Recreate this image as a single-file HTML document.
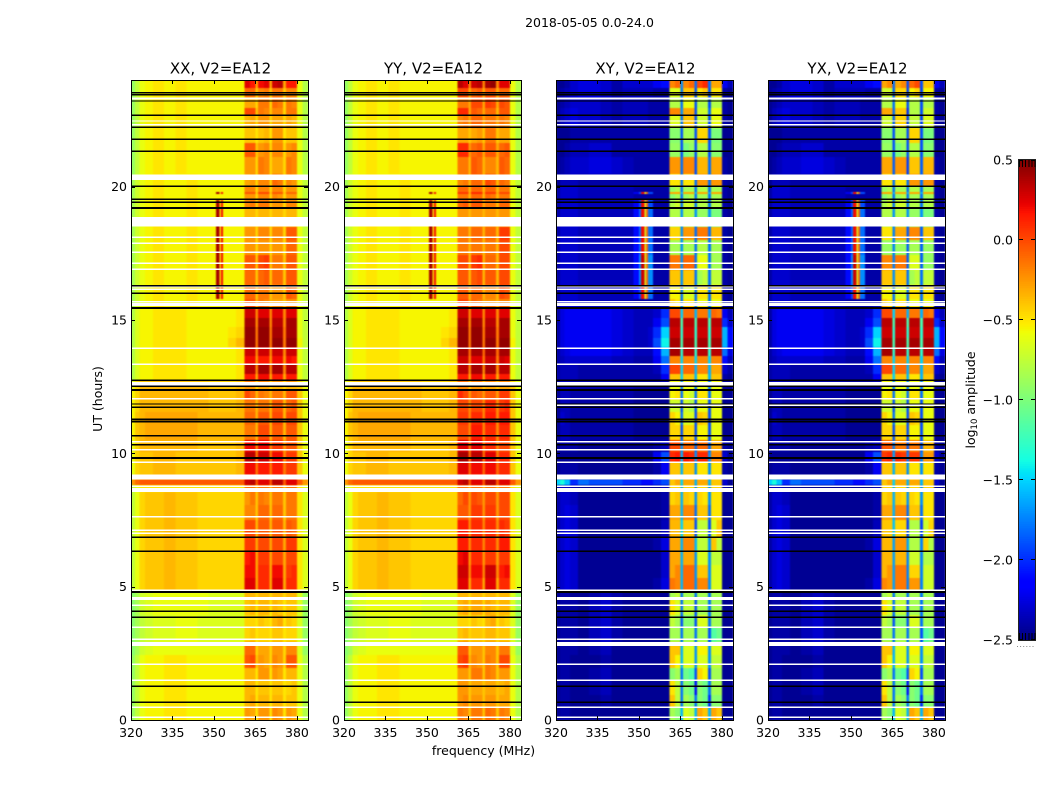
<!DOCTYPE html>
<html lang="en">
<head>
<meta charset="utf-8">
<title>2018-05-05 0.0-24.0</title>
<style>
html,body{margin:0;padding:0;background:#fff;width:1050px;height:800px;overflow:hidden}
svg{display:block}
text{font-family:"DejaVu Sans","Liberation Sans",sans-serif;fill:#000}
</style>
</head>
<body>
<svg id="figure" xmlns="http://www.w3.org/2000/svg" width="1050" height="800" viewBox="0 0 1050 800">
<defs>
<filter id="cell-smoothing" x="-2%" y="-1%" width="104%" height="102%" color-interpolation-filters="sRGB"><feGaussianBlur stdDeviation="0.8 0.6"/></filter>
</defs>
<rect x="0" y="0" width="1050" height="800" fill="#fff"/>
<text x="589.5" y="27" font-size="12.5" text-anchor="middle">2018-05-05 0.0-24.0</text>
<text x="102" y="399" font-size="12.5" text-anchor="middle" transform="rotate(-90 102 399)">UT (hours)</text>
<text x="483.5" y="755" font-size="12.5" text-anchor="middle">frequency (MHz)</text>
<text x="975" y="400" font-size="12.5" text-anchor="middle" transform="rotate(-90 975 400)">log<tspan font-size="8.5" dy="2">10</tspan><tspan dy="-2"> amplitude</tspan></text>
</svg>
<script>
// Heatmap data: values are in units of 0.05 log10 amplitude.
const freqEdgesMHz = [320,321.5,323,325,328,332,336,340,344,348,350,350.8,352,352.6,353.2,355,358,361,363,365,366,368,370,371,373,375,376,378,380,382,384];
const rowEdgesHours = [24,23.7,23.36,22.95,22.69,22.2,21.64,21.11,20.48,20.03,19.8,19.73,19.5,19.2,18.86,18.49,18,17.44,16.88,16.31,15.79,15.49,15.08,14.74,14.33,13.99,13.65,13.35,12.98,12.71,12.38,12,11.55,11.06,10.5,10.05,9.68,9.23,9.02,8.81,8.55,8.06,7.5,6.86,6.34,5.81,5.33,4.88,4.5,3.94,3.45,2.93,2.44,1.95,1.5,0.94,0.49,0];

const xxCells = [
[-18,-15,-12,-11,-10,-11,-10,-11,-11,-11,-11,-11,-11,-11,-11,-11,-11,5,3,-6,4,5,-6,6,7,-6,3,3,-12,-16],
[-18,-15,-12,-11,-10,-11,-10,-11,-11,-11,-11,-11,-11,-11,-11,-11,-11,-2,-2,-8,-4,-3,-8,-3,-3,-8,-4,-4,-12,-16],
[-18,-15,-12,-11,-10,-11,-10,-11,-11,-11,-11,-11,-11,-11,-11,-11,-11,-6,-6,-9,-3,-3,-9,-2,-3,-9,-3,-4,-12,-16],
[-18,-15,-12,-11,-10,-11,-10,-11,-11,-11,-11,-11,-11,-11,-11,-11,-11,0,0,-8,-3,-4,-8,-4,-4,-9,-3,-3,-12,-16],
[-18,-15,-12,-11,-10,-11,-10,-11,-11,-11,-11,-11,-11,-11,-11,-11,-11,-7,-6,-9,-5,-5,-9,-6,-6,-9,-6,-7,-12,-16],
[-18,-15,-12,-11,-10,-11,-10,-11,-11,-11,-11,-11,-11,-11,-11,-11,-11,-8,-8,-10,-8,-7,-10,-5,-5,-10,-8,-8,-12,-16],
[-18,-15,-12,-11,-10,-11,-10,-11,-11,-11,-11,-11,-11,-11,-11,-11,-11,-1,-1,-8,-5,-4,-9,-4,-4,-9,-5,-4,-12,-16],
[-18,-15,-12,-11,-10,-11,-10,-11,-11,-11,-11,-11,-11,-11,-11,-11,-11,-5,-5,-9,-3,-4,-9,-6,-6,-9,-3,-4,-12,-16],
[-17,-14,-12,-11,-10,-11,-11,-10,-11,-11,-11,-11,-11,-11,-11,-11,-11,-6,-5,-9,-4,-4,-9,-2,-3,-9,-4,-5,-12,-15],
[-17,-14,-12,-11,-10,-11,-11,-10,-11,-11,-11,-11,-11,-11,-11,-11,-11,-4,-4,-9,-4,-4,-9,-4,-4,-9,-5,-5,-12,-15],
[-17,-14,-12,-11,-10,-11,-11,-10,-11,-11,-11,8,-10,4,-11,-11,-11,-1,-1,-8,0,0,-8,-1,-1,-8,-2,-2,-12,-15],
[-17,-14,-12,-11,-10,-11,-11,-10,-11,-11,-11,-11,-11,-11,-11,-11,-11,-5,-5,-9,-4,-4,-9,-4,-5,-9,-5,-5,-12,-15],
[-17,-14,-12,-11,-10,-11,-11,-10,-11,-11,-11,8,-10,4,-11,-11,-11,-4,-3,-8,-3,-3,-8,-5,-5,-9,-4,-4,-12,-15],
[-17,-14,-12,-11,-10,-11,-11,-10,-11,-11,-11,8,-10,4,-11,-11,-11,-7,-7,-9,-7,-7,-9,-7,-7,-9,-7,-7,-12,-15],
[-17,-14,-12,-11,-10,-11,-11,-10,-11,-11,-11,8,-10,4,-11,-11,-11,-7,-7,-9,-7,-7,-9,-7,-7,-9,-7,-7,-12,-15],
[-17,-14,-12,-11,-10,-11,-11,-10,-11,-11,-11,8,-10,4,-11,-11,-11,-5,-5,-9,-4,-4,-9,-4,-4,-9,-1,-1,-12,-15],
[-17,-14,-12,-11,-10,-11,-11,-10,-11,-11,-11,8,-10,4,-11,-11,-11,-5,-5,-9,-5,-5,-9,-5,-5,-9,-2,-2,-12,-15],
[-17,-14,-12,-11,-10,-11,-11,-10,-11,-11,-11,8,-10,4,-11,-11,-11,-1,-1,-8,0,1,-8,-3,-3,-8,-1,-1,-12,-15],
[-17,-14,-12,-11,-10,-11,-11,-10,-11,-11,-11,8,-10,4,-11,-11,-11,-2,-2,-8,-2,-1,-8,-2,-2,-8,-1,-1,-12,-15],
[-17,-14,-12,-11,-10,-11,-11,-10,-11,-11,-11,8,-10,4,-11,-11,-11,-2,-2,-8,-3,-3,-8,-5,-5,-8,-1,-2,-12,-15],
[-17,-14,-12,-11,-10,-11,-11,-10,-11,-11,-11,-11,-11,-11,-11,-11,-11,-1,-1,-7,-3,-4,-7,-6,-6,-8,-5,-5,-12,-15],
[-16,-13,-11,-11,-10,-10,-10,-11,-11,-11,-11,-11,-11,-11,-11,-11,-10,6,6,-4,5,5,-4,5,5,-4,5,5,-12,-15],
[-16,-13,-11,-11,-10,-10,-10,-11,-11,-11,-11,-11,-11,-11,-11,-11,-10,8,8,-4,8,8,-4,7,7,-4,8,8,-12,-15],
[-16,-13,-11,-11,-10,-10,-10,-11,-11,-11,-11,-11,-11,-11,-11,-10,-9,9,9,-3,9,9,-3,8,8,-3,8,8,-12,-15],
[-16,-13,-11,-11,-10,-10,-10,-11,-11,-11,-11,-11,-11,-11,-11,-9,-7,9,9,-3,9,9,-3,9,9,-3,9,9,-11,-15],
[-16,-13,-11,-11,-10,-10,-10,-11,-11,-11,-11,-11,-11,-11,-11,-11,-10,6,6,-4,6,6,-4,6,6,-4,6,6,-12,-15],
[-16,-13,-11,-11,-10,-10,-10,-11,-11,-11,-11,-11,-11,-11,-11,-11,-10,4,4,-5,3,3,-5,4,4,-5,4,3,-12,-15],
[-16,-13,-11,-11,-10,-10,-10,-11,-11,-11,-11,-11,-11,-11,-11,-11,-10,7,7,-4,8,8,-4,8,8,-4,7,7,-12,-15],
[-16,-13,-11,-11,-10,-10,-10,-11,-11,-11,-11,-11,-11,-11,-11,-11,-10,3,3,-6,4,4,-6,3,3,-6,3,3,-12,-15],
[-12,-9,-7,-7,-7,-7,-7,-7,-7,-8,-8,-8,-8,-8,-8,-8,-7,-5,-5,-9,-6,-6,-9,-7,-7,-9,-7,-7,-8,-12],
[-11,-9,-7,-7,-7,-7,-7,-7,-7,-8,-8,-8,-8,-8,-8,-8,-7,0,-2,-7,-3,-4,-7,-3,-3,-7,-1,-1,-8,-12],
[-11,-9,-7,-7,-7,-7,-7,-7,-7,-8,-8,-8,-8,-8,-8,-8,-7,-3,-3,-7,-3,-3,-7,-1,-1,-7,-2,-1,-8,-12],
[-11,-8,-7,-6,-6,-6,-6,-6,-7,-7,-7,-7,-7,-7,-7,-7,-7,-2,-2,-7,-1,-1,-7,0,0,-7,0,0,-8,-12],
[-11,-8,-7,-6,-6,-6,-6,-6,-7,-7,-7,-7,-7,-7,-7,-7,-7,-3,-3,-7,0,0,-7,-1,-1,-7,-1,-1,-8,-12],
[-12,-9,-7,-7,-7,-7,-7,-7,-8,-8,-8,-8,-8,-8,-8,-8,-7,4,4,-4,4,4,-4,1,1,-5,-1,-1,-8,-12],
[-12,-9,-8,-8,-7,-7,-8,-8,-8,-8,-8,-8,-8,-8,-8,-8,-7,7,7,-3,6,6,-3,4,4,-4,1,1,-8,-12],
[-12,-9,-8,-8,-7,-7,-8,-8,-8,-8,-8,-8,-8,-8,-8,-8,-7,4,4,-3,3,3,-3,3,3,-3,1,1,-8,-12],
[-12,-9,-8,-8,-7,-7,-8,-8,-8,-8,-8,-8,-8,-8,-8,-8,-7,2,2,-3,2,2,-3,2,2,-3,2,2,-8,-12],
[-5,-2,-1,-1,-1,-1,-1,-1,-1,-1,-1,-1,-1,-1,-1,-1,-1,6,7,-1,5,5,-1,7,7,-1,5,5,-1,-5],
[-15,-12,-10,-10,-10,-10,-10,-10,-10,-10,-10,-10,-10,-10,-10,-10,-10,-3,-3,-7,-3,-3,-7,-3,-3,-7,-3,-3,-10,-13],
[-15,-12,-9,-8,-8,-7,-8,-8,-9,-9,-9,-9,-9,-9,-9,-9,-9,-5,-3,-8,-3,-4,-8,-3,-3,-8,-3,-3,-10,-13],
[-15,-12,-9,-8,-8,-7,-8,-8,-9,-9,-9,-9,-9,-9,-9,-9,-9,-4,-4,-8,-2,-2,-8,-2,-2,-8,-3,-3,-10,-13],
[-15,-12,-9,-8,-8,-7,-8,-8,-9,-9,-9,-9,-9,-9,-9,-9,-9,0,0,-7,-1,-1,-7,-1,-1,-7,-1,-2,-10,-13],
[-15,-12,-9,-8,-8,-7,-8,-8,-9,-9,-9,-9,-9,-9,-9,-9,-9,1,1,-6,0,0,-6,0,0,-6,1,1,-10,-13],
[-15,-12,-9,-8,-8,-7,-8,-8,-9,-9,-9,-9,-9,-9,-9,-9,-9,3,4,-6,1,1,-6,0,0,-6,0,0,-10,-13],
[-15,-12,-9,-8,-8,-7,-8,-8,-9,-9,-9,-9,-9,-9,-9,-9,-9,4,4,-6,2,2,-6,4,4,-6,1,2,-10,-13],
[-15,-12,-9,-8,-8,-7,-8,-8,-9,-9,-9,-9,-9,-9,-9,-9,-9,5,5,-6,2,2,-6,5,5,-6,2,2,-10,-13],
[-19,-17,-14,-13,-12,-12,-12,-12,-12,-13,-13,-13,-13,-13,-13,-13,-13,-7,-7,-9,-7,-7,-9,-7,-7,-9,-7,-7,-13,-18],
[-19,-17,-14,-13,-12,-12,-12,-12,-12,-13,-13,-13,-13,-13,-13,-13,-13,-8,-7,-10,-7,-7,-10,-7,-8,-10,-8,-8,-13,-18],
[-19,-17,-15,-14,-13,-13,-12,-12,-13,-13,-13,-13,-13,-13,-13,-13,-13,-9,-9,-10,-8,-9,-10,-7,-6,-10,-8,-9,-13,-18],
[-19,-17,-15,-14,-13,-13,-12,-12,-13,-13,-13,-13,-13,-13,-13,-13,-13,-9,-8,-10,-9,-9,-10,-8,-8,-10,-9,-9,-13,-18],
[-19,-17,-14,-13,-12,-12,-12,-12,-12,-12,-12,-12,-12,-12,-12,-12,-12,-2,-2,-9,-6,-6,-9,-5,-5,-9,-4,-4,-13,-18],
[-18,-15,-12,-11,-11,-10,-10,-11,-11,-11,-11,-11,-11,-11,-11,-11,-11,-1,0,-8,-5,-6,-9,-4,-5,-9,-1,-1,-12,-16],
[-18,-15,-12,-11,-11,-10,-10,-11,-11,-11,-11,-11,-11,-11,-11,-11,-11,-7,-7,-10,-5,-5,-10,-5,-6,-10,-7,-7,-12,-16],
[-18,-15,-12,-11,-11,-10,-10,-11,-11,-11,-11,-11,-11,-11,-11,-11,-11,-7,-7,-10,-8,-8,-10,-8,-8,-10,-9,-8,-12,-16],
[-18,-15,-12,-11,-11,-10,-10,-11,-11,-11,-11,-11,-11,-11,-11,-11,-11,-7,-6,-10,-7,-7,-10,-7,-7,-10,-8,-8,-12,-16],
[-18,-15,-12,-11,-11,-10,-10,-11,-11,-11,-11,-11,-11,-11,-11,-11,-11,-5,-6,-10,-5,-5,-10,-4,-5,-10,-5,-6,-12,-16]
];

const xyCells = [
[-49,-49,-48,-46,-45,-45,-46,-48,-46,-46,-46,-46,-46,-46,-46,-44,-42,-4,-2,-34,-4,-2,-36,0,2,-36,-6,-6,-44,-47],
[-49,-48,-47,-46,-45,-45,-46,-48,-47,-47,-47,-47,-47,-47,-47,-48,-48,-13,-13,-36,-8,-8,-38,-10,-8,-38,-10,-10,-48,-49],
[-49,-48,-47,-46,-46,-46,-47,-48,-47,-47,-47,-47,-47,-47,-48,-48,-48,-16,-16,-36,-12,-12,-38,-16,-16,-38,-16,-16,-48,-49],
[-49,-47,-46,-45,-46,-46,-47,-48,-47,-47,-47,-47,-47,-47,-48,-48,-48,-4,-4,-34,-6,-6,-38,-14,-14,-36,-12,-12,-48,-49],
[-49,-47,-46,-45,-46,-46,-47,-48,-47,-47,-47,-47,-47,-47,-48,-48,-48,-13,-13,-36,-8,-8,-38,-14,-14,-38,-12,-12,-48,-49],
[-49,-49,-49,-48,-48,-48,-48,-48,-48,-48,-48,-48,-48,-48,-48,-48,-48,-19,-19,-38,-17,-17,-38,-9,-9,-38,-20,-20,-49,-49],
[-49,-49,-48,-47,-47,-46,-46,-48,-48,-48,-48,-48,-48,-48,-48,-48,-48,-18,-18,-38,-20,-18,-38,-16,-16,-38,-19,-19,-49,-49],
[-49,-48,-47,-46,-46,-45,-45,-46,-47,-48,-48,-48,-48,-48,-48,-48,-48,-5,-5,-36,-4,-4,-38,-7,-7,-36,-6,-6,-48,-49],
[-49,-47,-47,-47,-48,-48,-48,-48,-48,-48,-48,-48,-48,-48,-48,-48,-48,-10,-10,-36,-10,-10,-36,-5,-5,-36,-5,-5,-48,-49],
[-48,-46,-46,-46,-47,-47,-47,-47,-47,-48,-48,-48,-48,-48,-48,-48,-48,-18,-16,-36,-17,-17,-36,-16,-16,-36,-17,-17,-48,-49],
[-48,-46,-46,-46,-47,-47,-47,-47,-47,-44,-38,4,-14,-2,-38,-48,-48,-6,-6,-32,-6,-6,-32,-6,-6,-32,-6,-6,-48,-49],
[-48,-46,-46,-46,-47,-47,-47,-47,-47,-48,-48,-48,-48,-48,-48,-48,-48,-19,-17,-36,-18,-16,-36,-17,-17,-36,-17,-17,-48,-49],
[-48,-46,-46,-46,-47,-47,-47,-47,-47,-44,-38,4,-14,-2,-38,-48,-48,-16,-14,-36,-14,-14,-36,-16,-16,-36,-16,-16,-48,-49],
[-48,-46,-46,-46,-47,-47,-47,-47,-47,-42,-36,4,-14,-2,-36,-48,-48,-16,-16,-34,-16,-16,-34,-18,-18,-34,-20,-20,-48,-49],
[-48,-46,-46,-46,-47,-47,-47,-47,-47,-42,-36,4,-14,-2,-36,-48,-48,-16,-16,-34,-16,-16,-34,-18,-18,-34,-20,-20,-48,-49],
[-48,-46,-46,-46,-47,-47,-47,-47,-47,-42,-36,4,-14,-2,-36,-48,-48,-9,-9,-34,-5,-5,-36,-3,-3,-36,-7,-7,-48,-49],
[-48,-46,-46,-46,-47,-47,-47,-47,-47,-42,-36,4,-14,-2,-36,-48,-48,-17,-17,-34,-17,-17,-36,-16,-16,-36,-17,-17,-48,-49],
[-48,-46,-46,-46,-47,-47,-47,-47,-47,-42,-34,6,-14,-2,-34,-48,-48,-3,-3,-34,-2,-2,-36,-12,-12,-36,-17,-17,-48,-49],
[-48,-46,-46,-46,-47,-47,-47,-47,-47,-42,-34,6,-14,-2,-34,-48,-48,-8,-8,-34,-8,-8,-36,-17,-15,-36,-15,-15,-48,-49],
[-48,-46,-46,-46,-47,-47,-47,-47,-47,-44,-38,4,-14,-2,-36,-48,-48,-11,-11,-36,-13,-13,-36,-10,-10,-36,-10,-10,-48,-49],
[-48,-46,-46,-46,-47,-47,-47,-47,-47,-48,-48,-48,-48,-48,-48,-48,-48,-8,-10,-36,-10,-10,-36,-12,-12,-36,-12,-12,-48,-49],
[-48,-45,-44,-44,-44,-44,-44,-45,-46,-47,-47,-47,-47,-47,-47,-46,-40,0,0,-30,-2,-2,-32,-3,-3,-32,-2,-3,-44,-47],
[-48,-45,-44,-44,-44,-44,-44,-45,-46,-47,-47,-47,-47,-47,-47,-44,-38,7,7,-24,7,7,-24,7,7,-24,7,7,-40,-46],
[-48,-45,-44,-44,-44,-44,-44,-45,-46,-47,-47,-47,-47,-47,-46,-40,-30,6,6,-26,6,6,-26,6,6,-26,6,6,-32,-42],
[-48,-45,-44,-44,-44,-44,-44,-45,-46,-47,-47,-47,-47,-47,-46,-38,-28,8,8,-24,8,8,-24,8,8,-24,8,8,-32,-42],
[-48,-46,-45,-44,-44,-44,-44,-45,-46,-47,-47,-47,-47,-47,-47,-42,-32,8,8,-26,7,7,-26,7,7,-26,7,7,-36,-45],
[-48,-47,-46,-46,-46,-46,-46,-47,-47,-48,-48,-48,-48,-48,-48,-44,-36,-4,-4,-30,-4,-4,-30,-4,-4,-30,-4,-4,-42,-47],
[-48,-47,-47,-47,-48,-48,-48,-48,-48,-48,-48,-48,-48,-48,-48,-47,-40,0,0,-30,-2,-2,-32,-4,-4,-32,-6,-6,-46,-48],
[-48,-47,-47,-47,-48,-48,-48,-48,-48,-48,-48,-48,-48,-48,-48,-48,-44,-8,-8,-30,-8,-8,-32,-10,-10,-32,-8,-8,-48,-49],
[-49,-47,-47,-48,-48,-48,-48,-48,-48,-49,-49,-49,-49,-49,-49,-49,-49,-12,-12,-36,-12,-12,-36,-12,-12,-36,-12,-12,-49,-49],
[-49,-47,-47,-48,-48,-48,-48,-48,-48,-49,-49,-49,-49,-49,-49,-49,-49,-11,-10,-36,-12,-14,-36,-10,-10,-36,-12,-12,-49,-49],
[-49,-47,-47,-48,-48,-48,-48,-48,-48,-49,-49,-49,-49,-49,-49,-49,-49,-14,-14,-38,-14,-16,-38,-12,-12,-38,-12,-12,-49,-49],
[-49,-46,-47,-48,-48,-48,-48,-48,-48,-49,-49,-49,-49,-49,-49,-49,-49,-9,-11,-36,-13,-13,-38,-8,-9,-38,-12,-12,-49,-49],
[-49,-47,-47,-48,-48,-48,-48,-48,-48,-49,-49,-49,-49,-49,-49,-49,-49,-9,-9,-38,-9,-9,-38,-11,-11,-38,-12,-12,-49,-49],
[-49,-48,-48,-48,-49,-49,-49,-49,-49,-49,-49,-49,-49,-49,-49,-48,-47,0,0,-34,-2,-2,-36,-2,-2,-36,-6,-6,-48,-49],
[-49,-49,-49,-49,-49,-49,-49,-49,-49,-49,-49,-49,-49,-49,-49,-44,-38,2,3,-32,3,2,-34,2,2,-34,-4,-4,-46,-49],
[-49,-48,-48,-48,-49,-49,-49,-49,-49,-49,-49,-49,-49,-49,-49,-48,-44,-8,-8,-32,-8,-8,-34,-10,-10,-34,-10,-10,-48,-49],
[-49,-48,-48,-48,-49,-49,-49,-49,-49,-49,-49,-49,-49,-49,-49,-48,-44,-8,-8,-32,-8,-8,-34,-10,-10,-34,-10,-10,-48,-49],
[-30,-27,-31,-40,-36,-38,-38,-38,-40,-40,-40,-42,-42,-42,-42,-40,-38,-8,-6,-30,-6,-6,-32,-6,-6,-32,-8,-8,-46,-49],
[-48,-47,-47,-48,-49,-49,-49,-49,-49,-49,-49,-49,-49,-49,-49,-49,-47,-9,-9,-32,-9,-9,-34,-9,-9,-34,-9,-9,-48,-49],
[-48,-46,-46,-47,-49,-49,-49,-49,-49,-49,-49,-49,-49,-49,-49,-49,-48,-9,-8,-32,-8,-9,-34,-9,-10,-34,-10,-10,-49,-49],
[-48,-46,-45,-46,-49,-49,-49,-49,-49,-49,-49,-49,-49,-49,-49,-49,-48,-6,-6,-32,-4,-4,-36,-8,-8,-36,-10,-10,-49,-49],
[-48,-46,-45,-46,-49,-49,-49,-49,-49,-49,-49,-49,-49,-49,-49,-49,-47,-7,-7,-30,-8,-8,-38,-15,-15,-38,-13,-8,-49,-49],
[-48,-46,-45,-46,-49,-49,-49,-49,-49,-49,-49,-49,-49,-49,-49,-48,-45,-6,-6,-32,-4,-4,-32,-15,-15,-34,-8,-15,-49,-49],
[-48,-46,-45,-46,-49,-49,-49,-49,-49,-49,-49,-49,-49,-49,-49,-49,-46,-6,-6,-32,-6,-6,-34,-13,-13,-34,-15,-15,-49,-49],
[-48,-46,-45,-46,-49,-49,-49,-49,-49,-49,-49,-49,-49,-49,-49,-49,-46,-6,-4,-32,-2,-2,-34,-8,-8,-34,-13,-13,-49,-49],
[-48,-46,-45,-46,-49,-49,-49,-49,-49,-49,-49,-49,-49,-49,-49,-48,-45,-3,-4,-32,-2,-2,-34,-4,-4,-34,-13,-13,-49,-49],
[-49,-48,-48,-49,-49,-48,-47,-48,-49,-49,-49,-49,-49,-49,-49,-49,-49,-17,-15,-36,-17,-17,-36,-17,-17,-36,-17,-17,-49,-49],
[-49,-48,-48,-48,-49,-47,-46,-48,-49,-49,-49,-49,-49,-49,-49,-49,-49,-10,-13,-36,-15,-15,-38,-17,-17,-36,-17,-17,-49,-49],
[-49,-48,-48,-48,-49,-47,-46,-48,-49,-49,-49,-49,-49,-49,-49,-49,-49,-15,-17,-38,-19,-19,-38,-13,-13,-36,-17,-17,-49,-49],
[-49,-48,-48,-48,-49,-47,-46,-48,-49,-49,-49,-49,-49,-49,-49,-49,-49,-17,-17,-36,-17,-17,-36,-17,-17,-38,-23,-21,-49,-49],
[-49,-48,-48,-48,-49,-48,-47,-49,-49,-49,-49,-49,-49,-49,-49,-49,-49,-8,-8,-32,-13,-13,-34,-11,-11,-34,-13,-13,-49,-49],
[-49,-48,-48,-49,-49,-49,-48,-49,-49,-49,-49,-49,-49,-49,-49,-49,-49,-8,-11,-32,-13,-13,-34,-13,-13,-34,-15,-15,-49,-49],
[-49,-48,-48,-49,-49,-48,-47,-49,-49,-49,-49,-49,-49,-49,-49,-49,-49,-19,-17,-36,-21,-23,-38,-9,-11,-38,-17,-17,-49,-49],
[-49,-48,-48,-49,-49,-48,-47,-49,-49,-49,-49,-49,-49,-49,-49,-49,-49,-10,-15,-36,-19,-21,-42,-19,-21,-36,-17,-17,-49,-49],
[-49,-48,-48,-49,-49,-49,-48,-49,-49,-49,-49,-49,-49,-49,-49,-49,-49,-8,-15,-36,-17,-19,-36,-19,-21,-40,-19,-19,-49,-49],
[-49,-48,-48,-49,-49,-49,-49,-49,-49,-49,-49,-49,-49,-49,-49,-49,-49,-17,-19,-32,-13,-15,-32,-6,-8,-32,-6,-8,-49,-49]
];

// Per-row difference of the YY / YX bright band from XX / XY.
const yyBandDelta = [2,2,3,2,3,2,3,2,2,2,2,2,2,2,2,2,2,1,1,1,1,0,0,0,0,2,2,0,0,1,2,3,3,3,1,1,1,0,0,0,3,3,3,2,1,2,0,0,1,0,1,1,1,2,2,2,2];
const yxBandDelta = [-2,-1,0,-2,-1,0,0,-1,0,0,0,0,0,0,0,-1,-1,-1,0,0,0,0,0,0,0,0,0,0,0,0,0,0,0,0,-1,-1,0,0,0,0,0,0,-1,-1,-1,-1,-1,0,0,0,0,0,0,0,0,0,0];

// Flagged integrations: [centre hour, thickness in hours]
const whiteFlags = [[23.3,0.08],[22.46,0.05],[22.32,0.06],[20.35,0.21],[18.68,0.36],[18.1,0.05],[17.88,0.05],[17.54,0.05],[17.13,0.05],[16.9,0.05],[16.25,0.05],[16.15,0.05],[15.69,0.05],[15.58,0.1],[13.94,0.05],[13.34,0.05],[12.61,0.12],[12.05,0.05],[10.43,0.05],[10.14,0.05],[9.66,0.05],[9.12,0.19],[8.77,0.05],[8.62,0.15],[7.62,0.07],[7.12,0.05],[7,0.05],[4.86,0.05],[4.56,0.11],[4.3,0.05],[3.48,0.05],[3.03,0.05],[2.85,0.14],[2.09,0.05],[1.49,0.05],[0.48,0.05],[0.1,0.05]];
const blackFlags = [[23.52,0.05],[23.45,0.05],[23.21,0.05],[22.68,0.05],[22.23,0.05],[21.78,0.05],[21.33,0.05],[20.01,0.05],[19.53,0.05],[19.41,0.05],[19.2,0.07],[16.29,0.05],[16,0.05],[15.45,0.07],[12.74,0.05],[12.51,0.05],[12.38,0.07],[11.85,0.05],[11.73,0.05],[11.28,0.05],[11.19,0.07],[10.66,0.07],[10.32,0.07],[9.83,0.07],[6.85,0.05],[6.33,0.05],[4.8,0.07],[4.08,0.05],[3.85,0.05],[1.26,0.05],[0.66,0.05]];
const crossHandExtraWhite = [[11.8,0.05]];

const xTickValues = [320,335,350,365,380];
const yTickValues = [0,5,10,15,20];
const colorbarTickValues = [-2.5,-2,-1.5,-1,-0.5,0,0.5];
const panelTitles = ['XX, V2=EA12','YY, V2=EA12','XY, V2=EA12','YX, V2=EA12'];

// Layout (not data)
const panelLefts = [131,344,556,768];
const panelWidth = 177, plotTop = 80, plotBottom = 720;
const cbarLeft = 1019, cbarRight = 1035, cbarTop = 160, cbarBottom = 640;
const valueMin = -2.5, valueMax = 0.5, cellUnit = 0.05;
const NS = 'http://www.w3.org/2000/svg';
const svg = document.getElementById('figure');

function yScale(h){ return plotBottom - (h/24)*(plotBottom-plotTop); }
function xScale(left,f){ return left + (f-320)/64*panelWidth; }
function cbarY(v){ return cbarBottom - (v-valueMin)/(valueMax-valueMin)*(cbarBottom-cbarTop); }
function seg(p,t){
  if(t<=p[0][0]) return p[0][1];
  for(let i=1;i<p.length;i++){ if(t<=p[i][0]){ const a=p[i-1],b=p[i]; return a[1]+(t-a[0])/(b[0]-a[0])*(b[1]-a[1]); } }
  return p[p.length-1][1];
}
const jetR=[[0,0],[0.35,0],[0.66,1],[0.89,1],[1,0.5]];
const jetG=[[0,0],[0.125,0],[0.375,1],[0.64,1],[0.91,0],[1,0]];
const jetB=[[0,0.5],[0.11,1],[0.34,1],[0.65,0],[1,0]];
function jet(v){
  const t=Math.max(0,Math.min(1,(v-valueMin)/(valueMax-valueMin)));
  return 'rgb('+Math.round(seg(jetR,t)*255)+','+Math.round(seg(jetG,t)*255)+','+Math.round(seg(jetB,t)*255)+')';
}
function make(tag,attrs,parent){
  const el=document.createElementNS(NS,tag);
  for(const k in attrs) el.setAttribute(k,attrs[k]);
  (parent||svg).appendChild(el);
  return el;
}
function drawFlags(list,left,color,name,g){
  list.forEach(function(f){
    const y0=yScale(f[0]+f[1]/2), y1=yScale(f[0]-f[1]/2);
    const r=make('rect',{x:left+0.5,y:y0,width:panelWidth-0.5,height:y1-y0,fill:color},g);
    
    
  });
}

const panelCells=[xxCells,xxCells,xyCells,xyCells];
const panelDeltas=[null,yyBandDelta,null,yxBandDelta];
const panelKeys=['xx','yy','xy','yx'];

panelLefts.forEach(function(left,p){
  const g=make('g',{'shape-rendering':'crispEdges'});
  
  
  const cellGroup=make('g',{filter:'url(#cell-smoothing)'},g);
  
  
  const cells=panelCells[p], delta=panelDeltas[p];
  cells.forEach(function(row,r){
    const y0=yScale(rowEdgesHours[r]), y1=yScale(rowEdgesHours[r+1]);
    row.forEach(function(val,c){
      const x0=xScale(left,freqEdgesMHz[c]), x1=xScale(left,freqEdgesMHz[c+1]);
      const units=val+((delta&&c>=17&&c<=27)?delta[r]:0);
      const rect=make('rect',{x:x0,y:y0,width:x1-x0+0.3,height:y1-y0+0.3,fill:jet(units*cellUnit)},cellGroup);
      
      
    });
  });
  drawFlags(whiteFlags,left,'#fff','flagged-white-row',g);
  if(p>=2) drawFlags(crossHandExtraWhite,left,'#fff','flagged-white-row',g);
  drawFlags(blackFlags,left,'#000','flagged-black-row',g);

  const mask=make('path',{d:'M'+(left-3)+' '+(plotTop-3)+'h'+(panelWidth+6)+'v3h-'+(panelWidth+6)+'z M'+(left-3)+' '+plotBottom+'h'+(panelWidth+6)+'v3h-'+(panelWidth+6)+'z M'+(left-3)+' '+plotTop+'h3v'+(plotBottom-plotTop)+'h-3z M'+(left+panelWidth)+' '+plotTop+'h3v'+(plotBottom-plotTop)+'h-3z',fill:'#fff'});
  
  

  const frame=make('rect',{x:left+0.5,y:plotTop+0.5,width:panelWidth,height:plotBottom-plotTop,fill:'none',stroke:'#000','stroke-width':1,'shape-rendering':'crispEdges'});
  
  

  const title=make('text',{x:left+panelWidth/2+1,y:73.5,'font-size':15,'text-anchor':'middle'});
  title.textContent=panelTitles[p];
  
  

  xTickValues.forEach(function(v){
    const x=Math.round(xScale(left,v))+0.5;
    [[plotBottom,plotBottom-4],[plotTop,plotTop+4]].forEach(function(s){
      const t=make('line',{x1:x,x2:x,y1:s[0],y2:s[1],stroke:'#000','stroke-width':1,'shape-rendering':'crispEdges'});
      
      
    });
    const lab=make('text',{x:xScale(left,v),y:737,'font-size':12.5,'text-anchor':'middle'});
    lab.textContent=String(v);
    
    
  });
  yTickValues.forEach(function(v){
    const y=Math.round(yScale(v))+0.5;
    [[left,left+4],[left+panelWidth,left+panelWidth-4]].forEach(function(s){
      const t=make('line',{x1:s[0],x2:s[1],y1:y,y2:y,stroke:'#000','stroke-width':1,'shape-rendering':'crispEdges'});
      
      
    });
    const lab=make('text',{x:left-4,y:yScale(v)+4.5,'font-size':12.5,'text-anchor':'end'});
    lab.textContent=String(v);
    
    
  });
});

// Colorbar
const cbarGroup=make('g',{'shape-rendering':'crispEdges'});


for(let i=0;i<256;i++){
  const vLow=valueMin+i/256*(valueMax-valueMin), vHigh=valueMin+(i+1)/256*(valueMax-valueMin);
  const seg1=make('rect',{x:cbarLeft,y:cbarY(vHigh),width:cbarRight-cbarLeft,height:cbarY(vLow)-cbarY(vHigh)+0.3,fill:jet((vLow+vHigh)/2)},cbarGroup);
  
  
}
const cbarFrame=make('rect',{x:cbarLeft-0.5,y:cbarTop-0.5,width:cbarRight-cbarLeft+1,height:cbarBottom-cbarTop+1,fill:'none',stroke:'#222','stroke-width':1,'shape-rendering':'crispEdges'});


colorbarTickValues.forEach(function(v){
  const y=Math.round(cbarY(v))+0.5-(v===0.5?0:1);
  [[cbarLeft,cbarLeft+4],[cbarRight,cbarRight-4]].forEach(function(s){
    const t=make('line',{x1:s[0],x2:s[1],y1:y,y2:y,stroke:'#000','stroke-width':1,'shape-rendering':'crispEdges'});
    
    
  });
  const lab=make('text',{x:1013,y:cbarY(v)+4.5,'font-size':12.5,'text-anchor':'end'});
  lab.textContent=(v<0?'\u2212':'')+Math.abs(v).toFixed(1);
  
  
});
[0,1,2,3,4,5].forEach(function(i){
  const x=cbarLeft+0.5+i*3.1;
  const top=make('line',{x1:x,x2:x,y1:cbarTop,y2:cbarTop+7,stroke:'#000','stroke-width':1,'shape-rendering':'crispEdges'});
  
  
  const bot=make('line',{x1:x,x2:x,y1:cbarBottom,y2:cbarBottom-7,stroke:'#000','stroke-width':1,'shape-rendering':'crispEdges'});
  
  
  const dot=make('rect',{x:x-2.5,y:646,width:1,height:1,fill:'#888'});
  
  
});
</script>
</body>
</html>
